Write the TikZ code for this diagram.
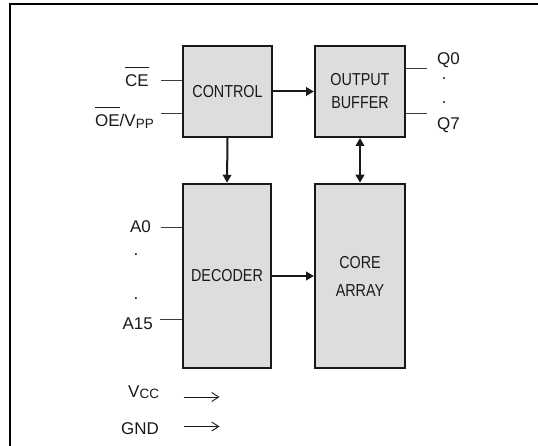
\documentclass[tikz,border=0pt]{standalone}
\usepackage{fontspec}
\setmainfont{Liberation Sans}
\newfontfamily\boxfont[FakeStretch=0.83]{Liberation Sans}
\usetikzlibrary{arrows.meta}
\definecolor{boxgray}{RGB}{221,221,221}
\definecolor{ink}{RGB}{25,25,25}
\newcommand\myovl[1]{\vbox{\hrule height 1pt\kern 7pt\hbox{#1}}}
\newcommand\mysub[1]{\raisebox{-1.5pt}{\fontsize{13.5}{14}\selectfont #1}}
\begin{document}
\begin{tikzpicture}[x=1pt,y=-1pt,
  blk/.style={draw=ink,line width=2pt,fill=boxgray,inner sep=0pt,
    font=\boxfont\fontsize{17.3}{20}\selectfont,text=ink,align=center},
  lbl/.style={font=\fontsize{17}{20}\selectfont,text=ink,inner sep=0pt},
  dotlbl/.style={font=\bfseries\fontsize{12}{12}\selectfont,text=ink,inner sep=0pt,
    text height=2pt,text depth=0pt,anchor=base},
  sig/.style={line width=1pt,draw=ink!85},
  bus/.style={line width=2pt,draw=ink,-{Triangle[length=8pt,width=8.5pt]}},
  bibus/.style={line width=2pt,draw=ink,{Triangle[length=8pt,width=8.5pt]}-{Triangle[length=8pt,width=8.5pt]}},
  pwr/.style={line width=0.9pt,draw=ink,-{Straight Barb[length=7pt,width=9pt]}}
]
\useasboundingbox (0,0) rectangle (538,446);
% frame
\draw[line width=2pt,black] (10,460) -- (10,4) -- (560,4);

% blocks
\node[blk,minimum width=89pt,minimum height=91pt] (ctrl) at (227.5,91.5) {CONTROL};
\node[blk,minimum width=90pt,minimum height=91pt] (outb) at (360,91.5) {OUTPUT\\[3pt]BUFFER};
\node[blk,minimum width=88.5pt,minimum height=184.5pt] (dec) at (227,276) {DECODER};
\node[blk,minimum width=90pt,minimum height=184.5pt] (core) at (360,276) {CORE\\[8pt]ARRAY};

% bus arrows
\draw[bus] (ctrl.east) -- (outb.west);
\draw[bus] (ctrl.south) -- (dec.north);
\draw[bibus] (outb.south) -- (core.north);
\draw[bus] (dec.east) -- (core.west);

% input signals
\coordinate (ce) at (161,80.6);
\coordinate (oe) at (161,114);
\coordinate (a0) at (160.5,228);
\coordinate (a15) at (160,319);
\draw[sig] (ce) -- (ce -| ctrl.west);
\draw[sig] (oe) -- (oe -| ctrl.west);
\draw[sig] (a0) -- (a0 -| dec.west);
\draw[sig] (a15) -- (a15 -| dec.west);

\node[lbl,anchor=base east] (lce) at (149,87) {\myovl{CE}};
\node[lbl,anchor=base east] (loe) at (154,127) {\myovl{OE}/V\mysub{PP}};
\node[lbl,anchor=base east] (la0) at (151,233) {A0};
\node[dotlbl] (ld1) at (136,256) {.};
\node[dotlbl] (ld2) at (136,299) {.};
\node[lbl,anchor=base east] (la15) at (153,329) {A15};

% outputs
\coordinate (q0) at (427,68.6);
\coordinate (q7) at (427,114);
\draw[sig] (q0 -| outb.east) -- (q0);
\draw[sig] (q7 -| outb.east) -- (q7);
\node[lbl,anchor=base west] (lq0) at (437,65) {Q0};
\node[dotlbl] (qd1) at (444,80) {.};
\node[dotlbl] (qd2) at (444,104) {.};
\node[lbl,anchor=base west] (lq7) at (437,130) {Q7};

% power
\node[lbl,anchor=base west] (lvcc) at (128,397) {V\mysub{CC}};
\node[lbl,anchor=base west] (lgnd) at (121,434) {GND};
\coordinate (v1) at (183.5,397);
\coordinate (v2) at (219.5,397);
\coordinate (g1) at (184,426.5);
\coordinate (g2) at (219.5,426.5);
\draw[pwr] (v1) -- (v2);
\draw[pwr] (g1) -- (g2);
\end{tikzpicture}
\end{document}
